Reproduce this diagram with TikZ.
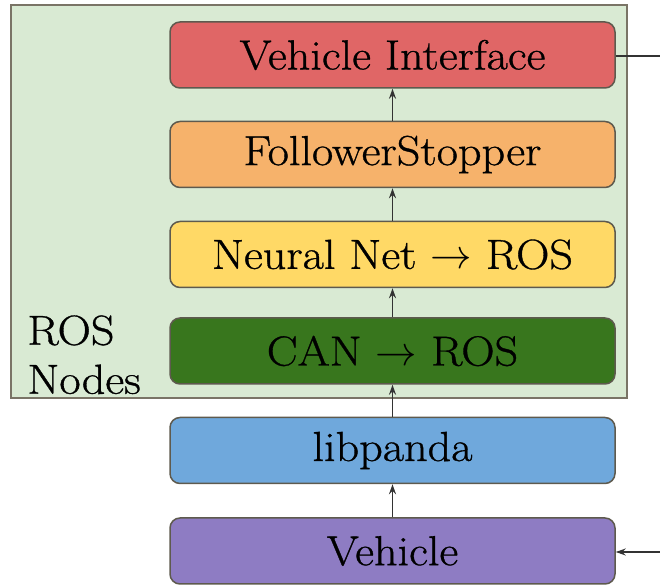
\documentclass[tikz,border=0pt]{standalone}
\usepackage{fontspec}
\setmainfont{Latin Modern Roman}[FakeStretch=1.1, FakeBold=0.8]
\usetikzlibrary{arrows.meta}
\definecolor{bgnodes}{HTML}{D9EAD3}
\definecolor{bgedge}{HTML}{7A7466}
\definecolor{boxedge}{HTML}{5E5A4E}
\definecolor{cred}{HTML}{E06666}
\definecolor{corange}{HTML}{F6B26B}
\definecolor{cyellow}{HTML}{FFD966}
\definecolor{cgreen}{HTML}{38761D}
\definecolor{cblue}{HTML}{6FA8DC}
\definecolor{cpurple}{HTML}{8E7CC3}
\definecolor{wire}{HTML}{333333}
\begin{document}
\begin{tikzpicture}[x=0.5pt,y=-0.5pt,
  labelfont/.style={font=\fontsize{21}{24.5}\selectfont},
  layer/.style={draw=boxedge, line width=0.75pt, rounded corners=5pt,
    minimum width=222.5pt, minimum height=33pt, inner sep=0pt,
    labelfont, text=black},
  link/.style={draw=wire, line width=0.7pt, -{Stealth[length=5pt,width=3.5pt]}},
  plain/.style={draw=wire, line width=0.7pt}]
  \useasboundingbox (0,0) rectangle (660,588);
  % container of the ROS nodes
  \draw[fill=bgnodes, draw=bgedge, line width=0.75pt] (11,5) rectangle (627,398);
  \node[anchor=north west, inner sep=0pt, align=left, labelfont] (rosnodes)
        at (27,315) {ROS\\Nodes};
  % stack of layers
  \node[layer, fill=cred]    (vi)  at (392.5,55)    {Vehicle Interface};
  \node[layer, fill=corange] (fs)  at (392.5,154.5) {FollowerStopper};
  \node[layer, fill=cyellow] (nn)  at (392.5,254.5) {Neural Net $\rightarrow$ ROS};
  \node[layer, fill=cgreen]  (can) at (392.5,351)   {CAN $\rightarrow$ ROS};
  \node[layer, fill=cblue]   (lp)  at (392.5,450.5) {libpanda};
  \node[layer, fill=cpurple] (veh) at (392.5,551)   {Vehicle};
  % data flow upward
  \draw[link] (veh) -- (lp);
  \draw[link] (lp) -- (can);
  \draw[link] (can) -- (nn);
  \draw[link] (nn) -- (fs);
  \draw[link] (fs) -- (vi);
  % loop back from the interface to the vehicle
  \coordinate (outR) at (660,56);
  \coordinate (inR) at (660,552);
  \draw[plain] (vi.east |- outR) -- (outR);
  \draw[link] (inR) -- (veh.east |- inR);
\end{tikzpicture}
\end{document}
